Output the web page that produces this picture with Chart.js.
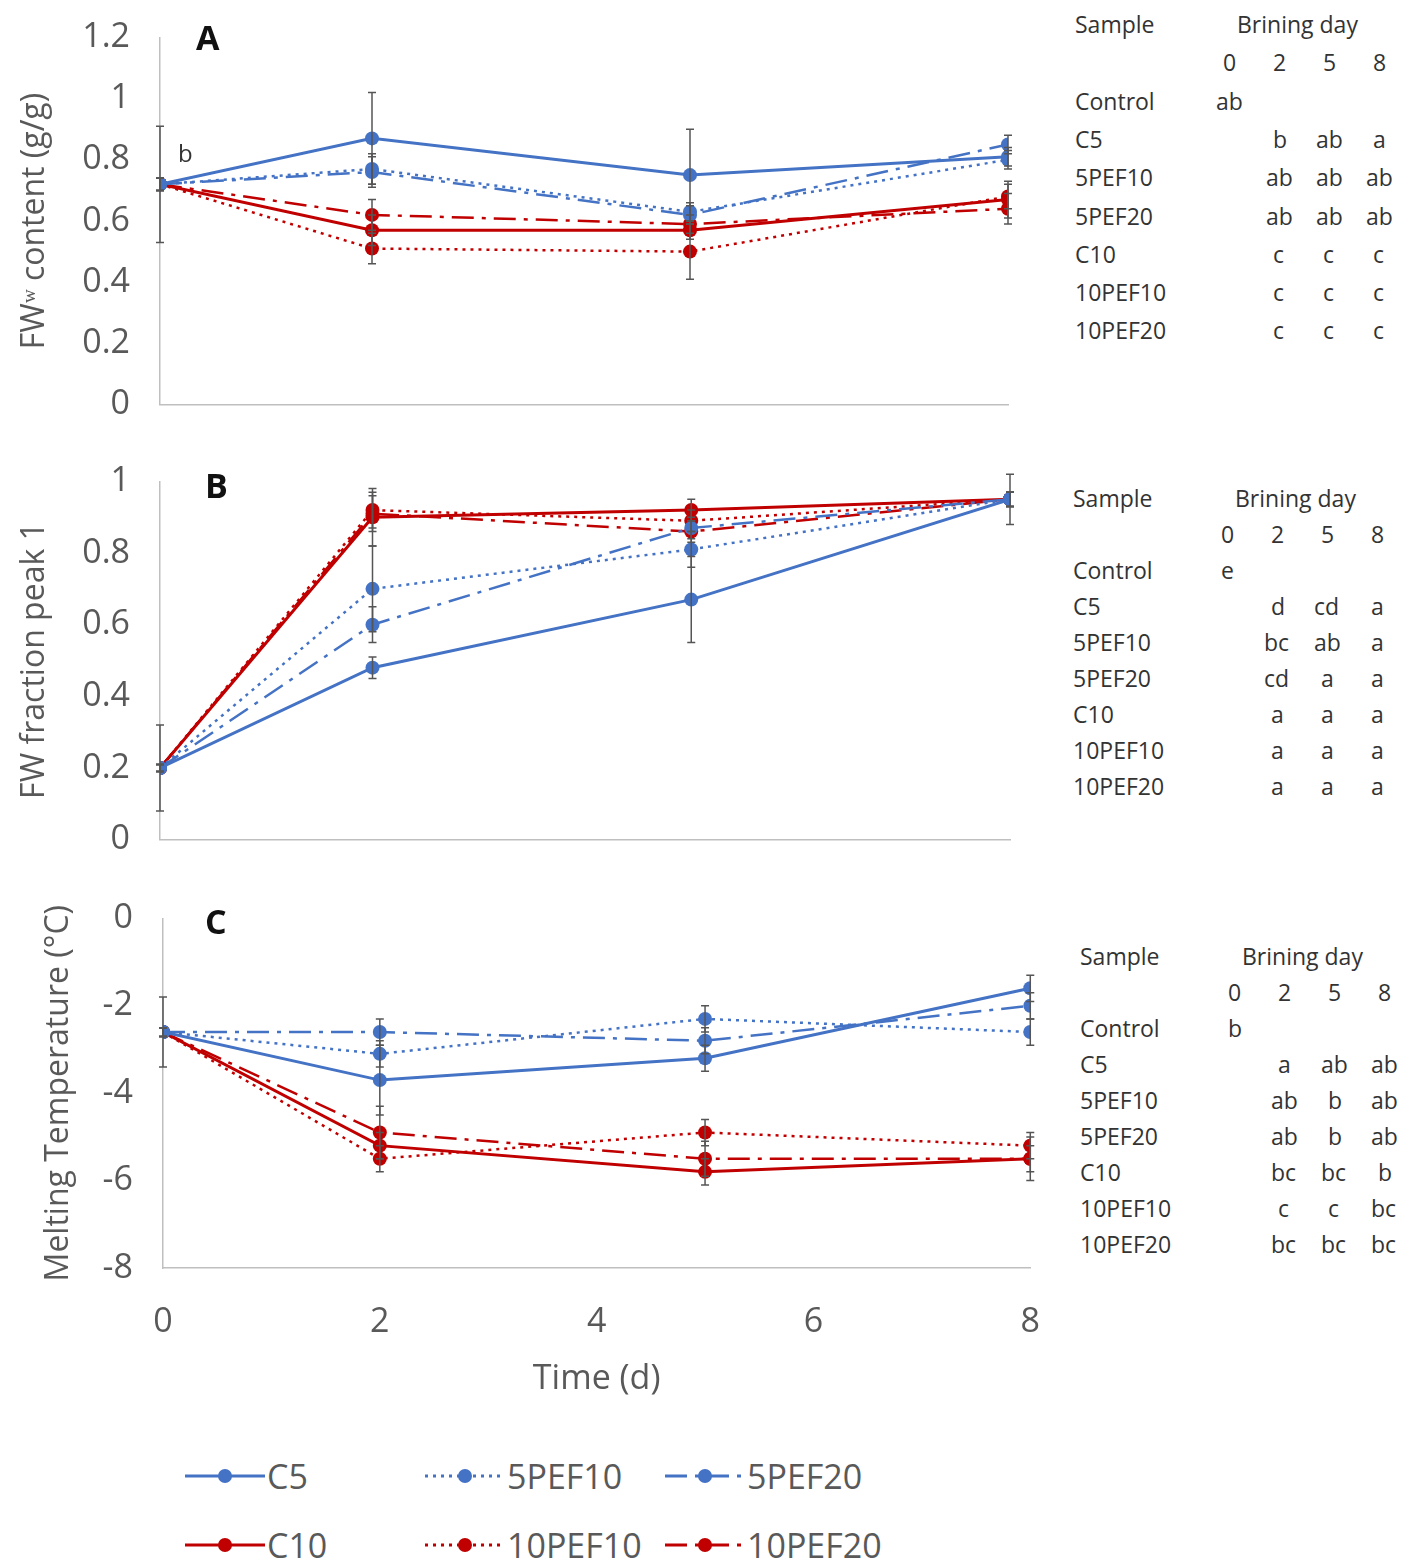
<!DOCTYPE html>
<html><head><meta charset="utf-8">
<script src="https://cdn.jsdelivr.net/npm/chart.js@4.4.0/dist/chart.umd.min.js"></script>
<style>
body{margin:0;background:#fff;width:1403px;height:1564px;position:relative;font-family:"Open Sans","Liberation Sans",sans-serif;color:#404040;overflow:hidden}
.w{position:absolute;left:0}
.t{position:absolute;font-size:23px;color:#333;white-space:pre}
.L{position:absolute;font-size:34px;font-weight:bold;color:#111}
.lg{position:absolute;font-size:34px;color:#595959;display:flex;align-items:center}
</style></head><body>
<div class="w" style="top:-13px;width:1040px;height:468px"><canvas id="cA" width="1040" height="468"></canvas></div>
<div class="w" style="top:431px;width:1040px;height:459px"><canvas id="cB" width="1040" height="459"></canvas></div>
<div class="w" style="top:868px;width:1074px;height:532px"><canvas id="cC" width="1074" height="532"></canvas></div>
<div class="L" style="left:196px;top:14px">A</div>
<div class="L" style="left:205px;top:462px">B</div>
<div class="L" style="left:205px;top:898px">C</div>
<div class="t" style="left:178px;top:136px;font-size:24px">b</div>
<div id="tables"></div>
<div id="legend"></div>
<script>
const days=[0,2,5,8];
const names=["C5","5PEF10","5PEF20","C10","10PEF10","10PEF20"];
const colors=["#4472C4","#4472C4","#4472C4","#C00000","#C00000","#C00000"];
const dashes=[[],[3,5],[22,8,4,8],[],[3,5],[22,8,4,8]];
// Panel A: FWw content
const A_vals=[[0.72,0.87,0.75,0.81],[0.72,0.77,0.63,0.80],[0.72,0.76,0.62,0.85],[0.72,0.57,0.57,0.67],[0.72,0.51,0.50,0.68],[0.72,0.62,0.59,0.64]];
const A_err=[[0.19,0.15,0.15,0.03],[0.02,0.05,0.03,0.03],[0.02,0.05,0.03,0.03],[0.02,0.05,0.03,0.06],[0.02,0.05,0.09,0.04],[0.02,0.05,0.03,0.05]];
// Panel B: FW fraction peak 1
const B_vals=[[0.2,0.48,0.67,0.95],[0.2,0.70,0.81,0.95],[0.2,0.60,0.87,0.95],[0.2,0.90,0.92,0.95],[0.2,0.92,0.89,0.95],[0.2,0.91,0.86,0.95]];
const B_err=[[0.12,0.03,0.12,0.07],[0.01,0.12,0.05,0.02],[0.01,0.05,0.03,0.02],[0.01,0.08,0.03,0.02],[0.01,0.05,0.03,0.02],[0.01,0.05,0.03,0.02]];
// Panel C: melting temperature
const C_vals=[[-2.6,-3.7,-3.2,-1.6],[-2.6,-3.1,-2.3,-2.6],[-2.6,-2.6,-2.8,-2.0],[-2.6,-5.2,-5.8,-5.5],[-2.6,-5.5,-4.9,-5.2],[-2.6,-4.9,-5.5,-5.5]];
const C_err=[[0.8,0.8,0.3,0.3],[0.1,0.3,0.3,0.3],[0.1,0.3,0.3,0.3],[0.1,0.3,0.3,0.3],[0.1,0.3,0.3,0.3],[0.1,0.6,0.4,0.5]];
const tblRows=["Control","C5","5PEF10","5PEF20","C10","10PEF10","10PEF20"];
const A_letters=[["ab","","",""],["","b","ab","a"],["","ab","ab","ab"],["","ab","ab","ab"],["","c","c","c"],["","c","c","c"],["","c","c","c"]];
const B_letters=[["e","","",""],["","d","cd","a"],["","bc","ab","a"],["","cd","a","a"],["","a","a","a"],["","a","a","a"],["","a","a","a"]];
const C_letters=[["b","","",""],["","a","ab","ab"],["","ab","b","ab"],["","ab","b","ab"],["","bc","bc","b"],["","c","c","bc"],["","bc","bc","bc"]];

const errPlugin={id:'err',afterDatasetsDraw(ch){const ctx=ch.ctx,ys=ch.scales.y,xs=ch.scales.x;
 ch.data.datasets.forEach(ds=>{ctx.save();ctx.strokeStyle='#555';ctx.lineWidth=1.5;
 ds.data.forEach((p,i)=>{const e=ds.err[i];const x=xs.getPixelForValue(p.x);const y1=ys.getPixelForValue(p.y+e),y2=ys.getPixelForValue(p.y-e);
 ctx.beginPath();ctx.moveTo(x,y1);ctx.lineTo(x,y2);ctx.moveTo(x-4,y1);ctx.lineTo(x+4,y1);ctx.moveTo(x-4,y2);ctx.lineTo(x+4,y2);ctx.stroke();});ctx.restore();});}};

function make(id,vals,errs,ymin,ymax,step,title,pad,xh,yw,showX){
 new Chart(document.getElementById(id),{type:'line',
 data:{datasets:vals.map((v,k)=>({data:v.map((y,i)=>({x:days[i],y})),err:errs[k],borderColor:colors[k],backgroundColor:colors[k],borderDash:dashes[k],borderWidth:k%3==0?3:2.5,pointRadius:7,pointBorderWidth:0,tension:0}))},
 options:{responsive:false,animation:false,layout:{padding:pad},plugins:{legend:{display:false},tooltip:{enabled:false}},
 scales:{x:{type:'linear',min:0,max:8,grid:{display:false,drawTicks:false},border:{color:'#bfbfbf',width:1.5},
   ticks:{display:showX,stepSize:2,padding:34,color:'#595959',font:{size:34,family:'Open Sans'}},
   title:{display:showX,text:'Time (d)',color:'#595959',font:{size:34,family:'Open Sans'},padding:{top:14,bottom:0}},
   afterFit(s){s.height=xh;}},
  y:{min:ymin,max:ymax,grid:{display:false,drawTicks:false},border:{color:'#bfbfbf',width:1.5},
   ticks:{stepSize:step,padding:30,color:'#595959',font:{size:34,family:'Open Sans'},callback:v=>String(Math.round(v*10)/10)},
   title:{display:true,text:title,color:'#595959',font:{size:32,family:'Open Sans'},padding:0},
   afterFit(s){s.width=yw;}}}},plugins:[errPlugin]});
}
make('cA',A_vals,A_err,0,1.2,0.2,'FWʷ content (g/g)',{top:22,right:32,left:16},17,144,false);
make('cB',B_vals,B_err,0,1,0.2,'FW fraction peak 1',{top:33,right:30,left:16},22,144,false);
make('cC',C_vals,C_err,-8,0,2,'Melting Temperature (°C)',{top:6,right:16,left:40},132,123,true);

function table(x,y,gap,letters){let h='';
 h+=`<div class="t" style="left:${x}px;top:${y}px">Sample</div><div class="t" style="left:${x+162}px;top:${y}px">Brining day</div>`;
 const cx=[x+155,x+205,x+255,x+305];
 ["0","2","5","8"].forEach((d,i)=>h+=`<div class="t" style="left:${cx[i]-7}px;top:${y+gap}px">${d}</div>`);
 tblRows.forEach((r,j)=>{const yy=y+gap*(j+2);h+=`<div class="t" style="left:${x}px;top:${yy}px">${r}</div>`;
  letters[j].forEach((l,i)=>{if(l)h+=`<div class="t" style="left:${cx[i]-(l.length*7)}px;top:${yy}px">${l}</div>`;});});
 return h;}
document.getElementById('tables').innerHTML=table(1075,8,38.3,A_letters)+table(1073,482,36,B_letters)+table(1080,940,36,C_letters);

function legItem(x,y,k){const d=dashes[k].join(',');
 return `<div class="lg" style="left:${x}px;top:${y}px"><svg width="80" height="20"><line x1="0" y1="10" x2="80" y2="10" stroke="${colors[k]}" stroke-width="3" stroke-dasharray="${d}"/><circle cx="40" cy="10" r="7" fill="${colors[k]}"/></svg><span style="margin-left:2px">${names[k]}</span></div>`;}
document.getElementById('legend').innerHTML=legItem(185,1453,0)+legItem(425,1453,1)+legItem(665,1453,2)+legItem(185,1522,3)+legItem(425,1522,4)+legItem(665,1522,5);
</script></body></html>
